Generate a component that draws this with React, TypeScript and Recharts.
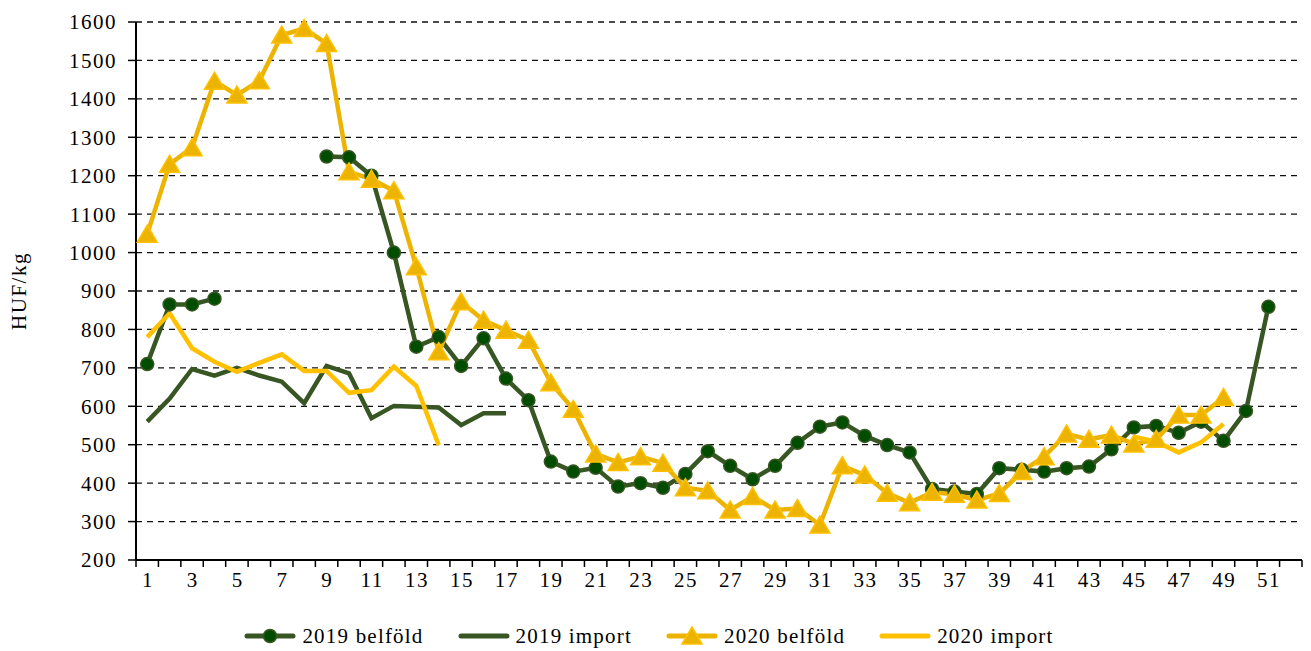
import { LineChart, Line, XAxis, YAxis, CartesianGrid, Legend } from "recharts"

const weeks = [
  1, 2, 3, 4, 5, 6, 7, 8, 9, 10, 11, 12, 13, 14, 15, 16, 17, 18, 19, 20, 21, 22, 23, 24, 25, 26,
  27, 28, 29, 30, 31, 32, 33, 34, 35, 36, 37, 38, 39, 40, 41, 42, 43, 44, 45, 46, 47, 48, 49, 50, 51, 52,
]

const belfold2019 = [
  710, 865, 865, 880, null, null, null, null, 1250, 1248, 1200, 1000, 755, 780, 705, 777, 672, 616,
  456, 430, 440, 391, 400, 388, 424, 483, 445, 410, 445, 505, 547, 558, 523, 499, 480, 385, 378, 372,
  439, 435, 430, 439, 443, 488, 545, 549, 531, 560, 510, 588, 859, null,
]

const import2019 = [
  560, 620, 697, 680, 700, 680, 664, 608, 705, 686, 569, 601, 599, 597, 551, 582, 582,
  null, null, null, null, null, null, null, null, null, null, null, null, null, null, null, null, null,
  null, null, null, null, null, null, null, null, null, null, null, null, null, null, null, null, null, null,
]

const belfold2020 = [
  1048, 1230, 1273, 1446, 1410, 1447, 1566, 1583, 1544, 1210, 1191, 1161, 963, 742, 872, 824, 798, 772,
  661, 592, 476, 454, 469, 452, 388, 380, 330, 365, 330, 334, 291, 445, 421, 374, 349, 376, 371, 356,
  373, 430, 469, 528, 514, 525, 502, 514, 577, 577, 623, null, null, null,
]

const import2020 = [
  780, 842, 751, 716, 690, 713, 735, 692, 692, 635, 642, 703, 653, 499,
  null, null, null, null, null, null, null, null, null, null, null, null, null, null, null, null,
  null, null, null, null, null, null, null, null, null, null, null, null, null, null,
  521, 508, 480, 506, 554, null, null, null,
]

const yTicks = [200, 300, 400, 500, 600, 700, 800, 900, 1000, 1100, 1200, 1300, 1400, 1500, 1600]

const data = weeks.map((w, i) => ({
  week: w,
  b19: belfold2019[i],
  i19: import2019[i],
  b20: belfold2020[i],
  i20: import2020[i],
}))

const FONT = "'Liberation Serif', 'Times New Roman', serif"
const GREEN = "#375623"
const GREEN_DOT = "#004d00"
const GOLD = "#ecb300"
const YELLOW = "#ffc000"
const BAND = 1167 / 52

function XTick(props: any) {
  const { x, y, payload, index } = props
  const axisY = y - 7
  const half = BAND / 2
  return (
    <g>
      <line x1={x - half} y1={axisY} x2={x - half} y2={axisY + 7} stroke="#000" strokeWidth={1.5} />
      {index === 51 && (
        <line x1={x + half} y1={axisY} x2={x + half} y2={axisY + 7} stroke="#000" strokeWidth={1.5} />
      )}
      {index % 2 === 0 && (
        <text x={x + 0.75} y={axisY + 27} textAnchor="middle" fontFamily={FONT} fontSize={21} letterSpacing={1.5} fill="#000">
          {payload.value}
        </text>
      )}
    </g>
  )
}

function Circle(props: any) {
  const { cx, cy, index } = props
  if (cx == null || cy == null) return <g key={index} />
  return <circle key={index} cx={cx} cy={cy} r={6.5} fill={GREEN_DOT} stroke={GREEN} strokeWidth={1.5} />
}

function Triangle(props: any) {
  const { cx, cy, index } = props
  if (cx == null || cy == null) return <g key={index} />
  return (
    <path
      key={index}
      d={`M${cx},${cy - 9}L${cx + 10},${cy + 8}L${cx - 10},${cy + 8}Z`}
      fill={GOLD}
      stroke={YELLOW}
      strokeWidth={1.5}
    />
  )
}

const legendItems = [
  { name: "2019 belföld", color: GREEN, marker: "circle" },
  { name: "2019 import", color: GREEN, marker: "none" },
  { name: "2020 belföld", color: GOLD, marker: "triangle" },
  { name: "2020 import", color: YELLOW, marker: "none" },
]

function LegendContent() {
  return (
    <div style={{ display: "flex", justifyContent: "center", gap: 34, height: 24, alignItems: "center", fontFamily: FONT, fontSize: 21, letterSpacing: 1.2, color: "#000", paddingRight: 12 }}>
      {legendItems.map((it) => (
        <div key={it.name} style={{ display: "flex", alignItems: "center" }}>
          <svg width={52} height={22}>
            <line x1={3} y1={11} x2={49} y2={11} stroke={it.color} strokeWidth={5} strokeLinecap="round" />
            {it.marker === "circle" && <circle cx={26} cy={11} r={6.5} fill={GREEN_DOT} stroke={GREEN} strokeWidth={1.5} />}
            {it.marker === "triangle" && <path d="M26,2L36,19L16,19Z" fill={GOLD} stroke={YELLOW} strokeWidth={1.5} />}
          </svg>
          <span style={{ marginLeft: 6 }}>{it.name}</span>
        </div>
      ))}
    </div>
  )
}

export default function App() {
  return (
    <LineChart width={1295} height={640} data={data} margin={{ top: 14, right: 1, left: 0, bottom: 0 }}>
      <CartesianGrid vertical={false} strokeDasharray="6 5" stroke="#111" strokeWidth={1.3} />
      <XAxis
        dataKey="week"
        interval={0}
        height={64}
        padding={{ left: BAND / 2, right: BAND / 2 }}
        tickSize={7}
        tickMargin={0}
        tickLine={false}
        axisLine={{ stroke: "#000", strokeWidth: 2 }}
        tick={<XTick />}
      />
      <YAxis
        width={128}
        domain={[200, 1600]}
        ticks={yTicks}
        interval={0}
        tickSize={8}
        tickMargin={11}
        axisLine={{ stroke: "#000", strokeWidth: 2 }}
        tickLine={{ stroke: "#000", strokeWidth: 1.5 }}
        tick={{ fontFamily: FONT, fontSize: 21, letterSpacing: 1.5, fill: "#000" }}
        label={{
          content: ({ viewBox }: any) => {
            const cy = viewBox.y + viewBox.height / 2
            return (
              <text x={13} y={cy} transform={`rotate(-90 13 ${cy})`} textAnchor="middle" dominantBaseline="middle" fontFamily={FONT} fontSize={21} letterSpacing={1.5} fill="#000">
                HUF/kg
              </text>
            )
          },
        }}
      />
      <Legend verticalAlign="bottom" content={<LegendContent />} />
      <Line dataKey="b19" name="2019 belföld" stroke={GREEN} strokeWidth={4.5} dot={<Circle />} activeDot={false} isAnimationActive={false} />
      <Line dataKey="i19" name="2019 import" stroke={GREEN} strokeWidth={4.5} dot={false} activeDot={false} isAnimationActive={false} />
      <Line dataKey="b20" name="2020 belföld" stroke={GOLD} strokeWidth={4.5} dot={<Triangle />} activeDot={false} isAnimationActive={false} />
      <Line dataKey="i20" name="2020 import" stroke={YELLOW} strokeWidth={4.5} dot={false} activeDot={false} isAnimationActive={false} />
    </LineChart>
  )
}
